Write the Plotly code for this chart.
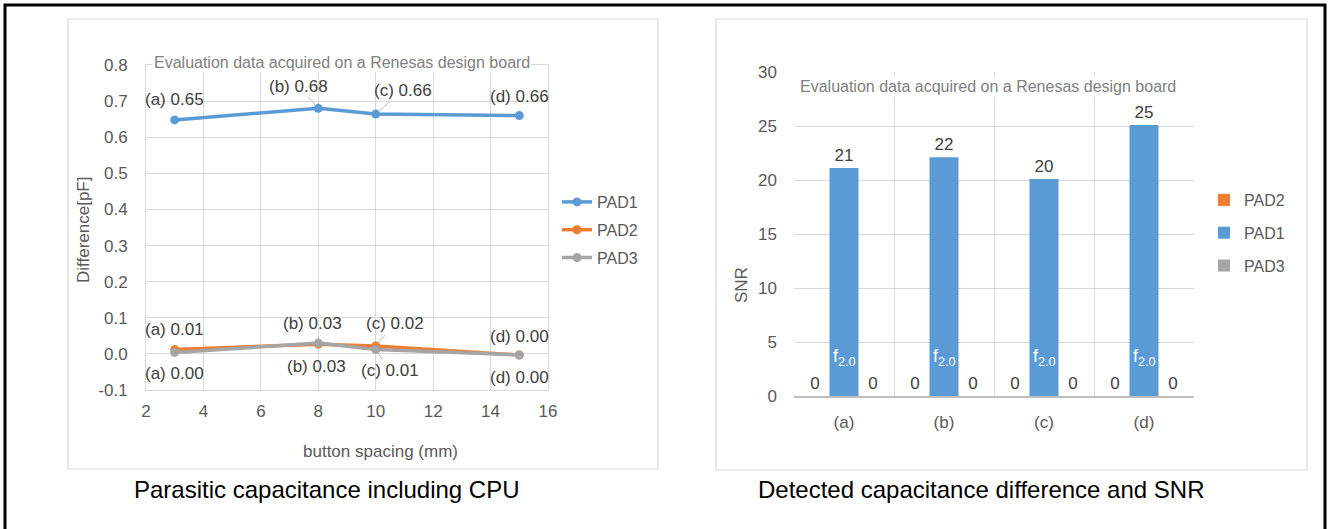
import plotly.graph_objects as go

W, H = 1328, 529

# ---------------- data ----------------
spacing_mm = [3, 8, 10, 15]
point_ids = ["a", "b", "c", "d"]
pad1_diff = [0.648, 0.680, 0.664, 0.660]
pad2_diff = [0.012, 0.027, 0.022, -0.003]
pad3_diff = [0.004, 0.030, 0.012, -0.003]

diff_ticks = [-0.1, 0.0, 0.1, 0.2, 0.3, 0.4, 0.5, 0.6, 0.7, 0.8]

snr_categories = ["(a)", "(b)", "(c)", "(d)"]
snr_pad2 = [0, 0, 0, 0]
snr_pad1 = [21.1, 22.1, 20.1, 25.1]
snr_pad3 = [0, 0, 0, 0]
freq_label = "f<sub>2.0</sub>"

note_text = "Evaluation data acquired on a Renesas design board"
left_caption = "Parasitic capacitance including CPU"
right_caption = "Detected capacitance difference and SNR"

# ---------------- style ----------------
C1, C2, C3 = "#5b9bd5", "#ed7d31", "#a5a5a5"
GRID = "#d9d9d9"
TICK = "#595959"
LBL = "#404040"
FONT = "Liberation Sans, Arial, sans-serif"
FS = 17


def px(x):
    return x / W


def py(y):
    return 1 - y / H


fig = go.Figure()

for name, vals, col in [("PAD1", pad1_diff, C1), ("PAD2", pad2_diff, C2), ("PAD3", pad3_diff, C3)]:
    fig.add_trace(go.Scatter(
        x=spacing_mm, y=vals, name=name, mode="lines+markers",
        line=dict(color=col, width=3.5), marker=dict(color=col, size=9),
        xaxis="x", yaxis="y", legend="legend", legendgroup="L" + name, cliponaxis=False,
    ))

for name, vals, col in [("PAD2", snr_pad2, C2), ("PAD1", snr_pad1, C1), ("PAD3", snr_pad3, C3)]:
    fig.add_trace(go.Bar(
        x=snr_categories, y=vals, name=name, marker=dict(color=col, line=dict(width=0)),
        texttemplate="%{y:.0f}", textposition="outside",
        textfont=dict(size=FS, color=LBL, family=FONT),
        xaxis="x2", yaxis="y2", legend="legend2", legendgroup="R" + name, cliponaxis=False,
    ))

annotations = []

# data labels for the line chart: (dx, dy, leader)
offsets = {
    "PAD1": [(0, -20, False), (-20, -22, True), (27, -24, True), (0, -19, False)],
    "PAD2": [(0, -20, False), (-6, -21, False), (19, -22, True), (0, -18, False)],
    "PAD3": [(0, 21, False), (-2, 23, False), (14, 21, True), (0, 23, False)],
}
for name, vals in [("PAD1", pad1_diff), ("PAD2", pad2_diff), ("PAD3", pad3_diff)]:
    for i, (xv, yv) in enumerate(zip(spacing_mm, vals)):
        dx, dy, leader = offsets[name][i]
        annotations.append(dict(
            x=xv, y=yv, xref="x", yref="y",
            text=f"({point_ids[i]}) {round(yv, 2) + 0.0:.2f}",
            showarrow=True, ax=dx, ay=dy, arrowhead=0, arrowwidth=0.8,
            arrowcolor="#a6a6a6" if leader else "rgba(0,0,0,0)", standoff=3,
            font=dict(size=FS, color=LBL, family=FONT),
        ))

# f2.0 labels inside the PAD1 bars
for cat in snr_categories:
    annotations.append(dict(
        x=cat, y=3.6, xref="x2", yref="y2", text=freq_label, showarrow=False,
        xanchor="center", yanchor="middle",
        font=dict(size=18, color="white", family=FONT),
    ))


def paper_text(x, y, text, size, color, angle=0, bg=None):
    d = dict(x=px(x), y=py(y), xref="paper", yref="paper", text=text, showarrow=False,
             xanchor="center", yanchor="middle", textangle=angle,
             font=dict(size=size, color=color, family=FONT))
    if bg:
        d["bgcolor"] = bg
    return d


annotations += [
    paper_text(342, 62, note_text, 16, "#808080", bg="white"),
    paper_text(988, 86, note_text, 16, "#808080", bg="white"),
    paper_text(84, 230, "Difference[pF]", FS, TICK, angle=-90),
    paper_text(380, 451, "button spacing (mm)", FS, TICK),
    paper_text(741, 285, "SNR", FS, TICK, angle=-90),
    paper_text(327, 489, left_caption, 24, "black"),
    paper_text(981, 489, right_caption, 24, "black"),
]

shapes = [
    dict(type="rect", xref="paper", yref="paper", x0=px(5), x1=px(1325), y0=py(540), y1=py(5),
         line=dict(color="black", width=3), layer="below"),
    dict(type="rect", xref="paper", yref="paper", x0=px(68), x1=px(658), y0=py(469), y1=py(19),
         line=dict(color=GRID, width=1.2), layer="below"),
    dict(type="rect", xref="paper", yref="paper", x0=px(716), x1=px(1307), y0=py(470), y1=py(19),
         line=dict(color=GRID, width=1.2), layer="below"),
]

fig.update_layout(
    width=W, height=H, margin=dict(l=0, r=0, t=0, b=0, pad=0, autoexpand=False),
    paper_bgcolor="white", plot_bgcolor="white",
    font=dict(family=FONT, color=TICK, size=FS),
    barmode="group", bargap=0.13, bargroupgap=0,
    xaxis=dict(domain=[px(146), px(548)], anchor="y", range=[2, 16], dtick=2,
               showgrid=True, gridcolor=GRID, gridwidth=1.2, zeroline=False,
               showline=True, linecolor=GRID, mirror=True,
               tickfont=dict(size=FS, color=TICK), ticklabelstandoff=6),
    yaxis=dict(domain=[py(390), py(65)], anchor="x", range=[-0.1, 0.8],
               tickvals=diff_ticks, ticktext=[f"{v:.1f}" for v in diff_ticks],
               showgrid=True, gridcolor=GRID, gridwidth=1.2, zeroline=False,
               showline=True, linecolor=GRID, mirror=True,
               tickfont=dict(size=FS, color=TICK), ticklabelstandoff=14),
    xaxis2=dict(domain=[px(794), px(1194)], anchor="y2", type="category",
                showgrid=True, gridcolor=GRID, gridwidth=1.2, tickson="boundaries", ticks="",
                showline=True, linecolor="#bfbfbf", linewidth=2, zeroline=False,
                tickfont=dict(size=FS, color=TICK), ticklabelstandoff=10),
    yaxis2=dict(domain=[py(396), py(72)], anchor="x2", range=[0, 30], dtick=5,
                showgrid=True, gridcolor=GRID, gridwidth=1.2, zeroline=False,
                tickfont=dict(size=FS, color=TICK), ticklabelstandoff=16),
    legend=dict(x=px(557), y=py(185), xanchor="left", yanchor="top", tracegroupgap=4,
                traceorder="grouped",
                font=dict(size=16, color=TICK), bgcolor="rgba(0,0,0,0)"),
    legend2=dict(x=px(1204), y=py(183), xanchor="left", yanchor="top", tracegroupgap=9,
                 itemwidth=30, traceorder="grouped",
                 font=dict(size=16, color=TICK), bgcolor="rgba(0,0,0,0)"),
    annotations=annotations, shapes=shapes,
)

fig.write_html("out.html", config={"displayModeBar": False},
               post_script="document.body.style.margin='0';document.body.style.padding='0';")
